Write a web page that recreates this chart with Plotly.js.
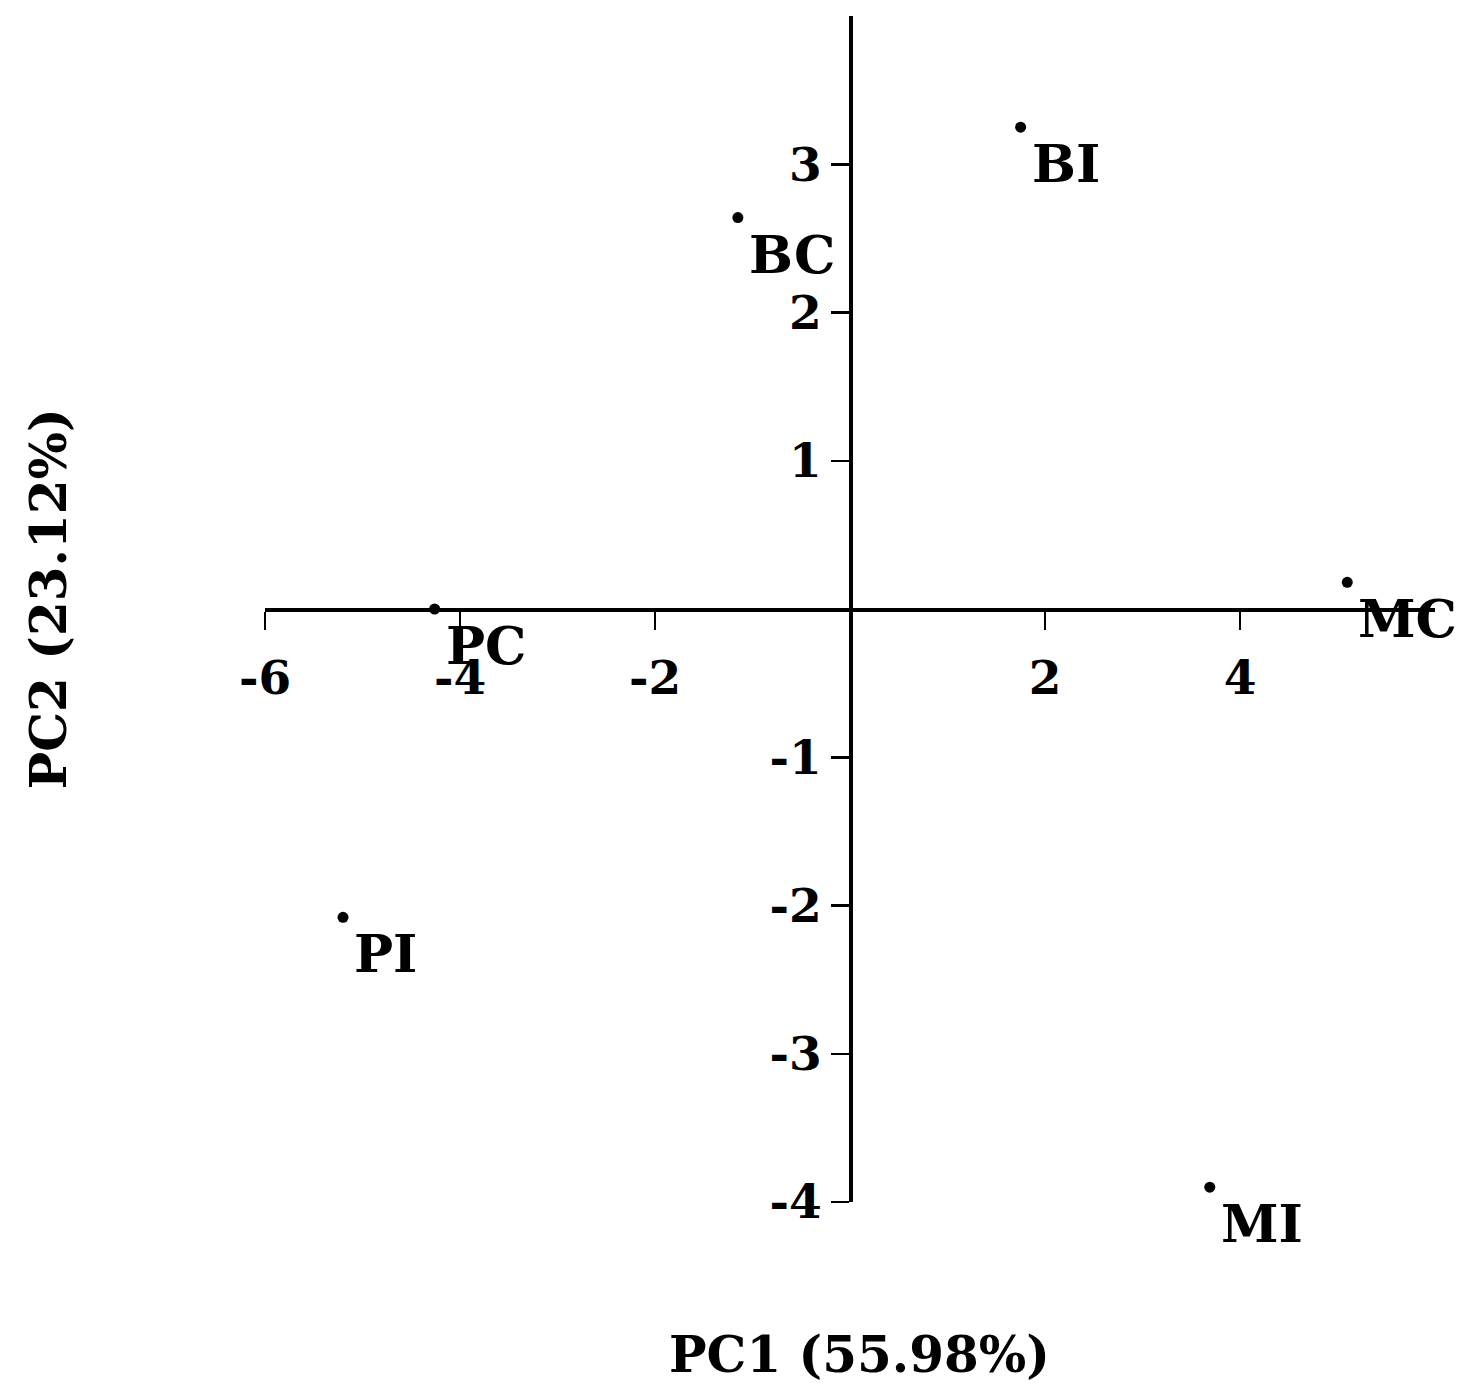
<!DOCTYPE html>
<html>
<head>
<meta charset="utf-8">
<script src="https://cdn.plot.ly/plotly-3.0.1.min.js"></script>
<style>
  html, body { margin: 0; padding: 0; background: #fff; }
  #plot { width: 1471px; height: 1397px; }
</style>
</head>
<body>
<div id="plot"></div>
<script>
// PCA scores
const groups = ['BI', 'BC', 'PC', 'MC', 'PI', 'MI'];
const pc1 = [1.75, -1.15, -4.26, 5.1, -5.2, 3.69];
const pc2 = [3.25, 2.64, 0.0, 0.18, -2.08, -3.9];

const xTicks = [-6, -4, -2, 2, 4];
const yTicks = [-4, -3, -2, -1, 1, 2, 3];

const xTitle = 'PC1 (55.98%)';
const yTitle = 'PC2 (23.12%)';

const fontFamily = '"DejaVu Serif", "Liberation Serif", serif';

const trace = {
    x: pc1,
    y: pc2,
    type: 'scatter',
    mode: 'markers',
    cliponaxis: false,
    marker: { color: '#000', size: 11 },
    hoverinfo: 'none'
};

function axisStyle(ticks, standoff) {
    return {
        anchor: 'free',
        position: 0.5,
        showgrid: false,
        zeroline: false,
        showline: true,
        linecolor: '#000',
        linewidth: 3.5,
        ticks: 'outside',
        ticklen: 18,
        tickwidth: 2.5,
        tickcolor: '#000',
        tickvals: ticks,
        ticktext: ticks.map(t => String(t)),
        ticklabelstandoff: standoff,
        tickfont: { family: fontFamily, size: 47, color: '#000', weight: 'bold' },
        fixedrange: true
    };
}

// group labels sit just below-right of each point
const pointLabels = groups.map((g, i) => ({
    text: g,
    x: pc1[i],
    y: pc2[i],
    xref: 'x', yref: 'y',
    xanchor: 'left', yanchor: 'top',
    xshift: 9, yshift: -4,
    showarrow: false,
    font: { family: fontFamily, size: 52, color: '#000', weight: 'bold' }
}));

const layout = {
    width: 1471,
    height: 1397,
    margin: { l: 265, r: 36, t: 16, b: 195 },
    paper_bgcolor: '#fff',
    plot_bgcolor: '#fff',
    showlegend: false,
    xaxis: Object.assign(axisStyle(xTicks, 8), { range: [-6, 6] }),
    yaxis: Object.assign(axisStyle(yTicks, 0), { range: [-4, 4] }),
    annotations: pointLabels.concat([
        {
            text: xTitle,
            xref: 'paper', yref: 'paper',
            x: 0.5085, y: -0.129,
            xanchor: 'center', yanchor: 'middle',
            showarrow: false,
            font: { family: fontFamily, size: 50, color: '#000', weight: 'bold' }
        },
        {
            text: yTitle,
            xref: 'paper', yref: 'paper',
            x: -0.1855, y: 0.509,
            xanchor: 'center', yanchor: 'middle',
            textangle: -90,
            showarrow: false,
            font: { family: fontFamily, size: 50, color: '#000', weight: 'bold' }
        }
    ])
};

Plotly.newPlot('plot', [trace], layout, { displayModeBar: false, staticPlot: true });
</script>
</body>
</html>
